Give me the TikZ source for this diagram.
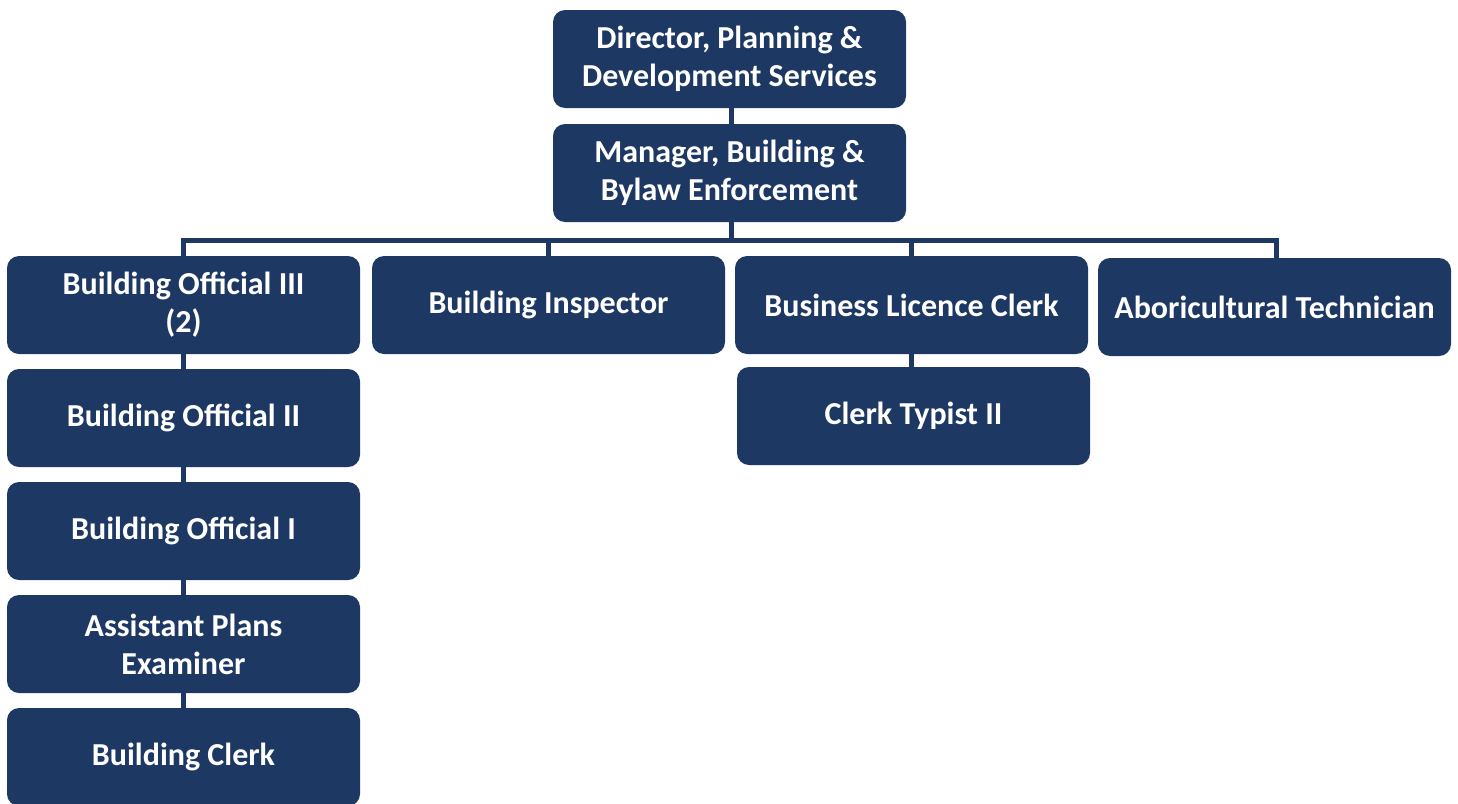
\documentclass[tikz,border=0pt]{standalone}
\usepackage{fontspec}
\setmainfont{Carlito}
\definecolor{navy}{HTML}{1E3864}
\tikzset{
  unit/.style={draw=none, fill=navy, rounded corners=12pt, minimum width=353pt, minimum height=98pt,
    text=white, align=center, font=\fontsize{32}{38}\selectfont\bfseries, inner sep=0pt},
  conn/.style={draw=navy, line width=5pt, line join=miter}
}
\begin{document}
\begin{tikzpicture}[x=1pt,y=-1pt]
\useasboundingbox (0,0) rectangle (1458,803);
\coordinate (bus) at (0,240);
\node[unit] (dir) at (729.5,59) {Director, Planning \&\\Development Services};
\node[unit] (mgr) at (729.5,173) {Manager, Building \&\\Bylaw Enforcement};
\node[unit] (bo3) at (183.5,305) {Building Official III\\(2)};
\node[unit] (bi) at (548.5,305) {Building Inspector};
\node[unit] (blc) at (911.5,305) {Business Licence Clerk};
\node[unit] (abo) at (1274.5,307) {Aboricultural Technician};
\node[unit] (ct) at (913.5,416) {Clerk Typist II};
\node[unit] (bo2) at (183.5,418) {Building Official II};
\node[unit] (bo1) at (183.5,531) {Building Official I};
\node[unit] (ape) at (183.5,644) {Assistant Plans\\Examiner};
\node[unit] (bc) at (183.5,757) {Building Clerk};
\draw[conn] ([xshift=1.5pt]dir.south) -- ([xshift=1.5pt]mgr.north);
\draw[conn] ([xshift=1.5pt]mgr.south) -- ([xshift=1.5pt]mgr.south |- bus);
\draw[conn] (bo3.north) -- (bo3.north |- bus) -- ([xshift=1.5pt]abo.north |- bus) -- ([xshift=1.5pt]abo.north);
\draw[conn] (bi.north |- bus) -- (bi.north);
\draw[conn] (blc.north |- bus) -- (blc.north);
\draw[conn] (blc.south) -- (blc.south |- ct.north);
\draw[conn] (bo3.south) -- (bo2.north);
\draw[conn] (bo2.south) -- (bo1.north);
\draw[conn] (bo1.south) -- (ape.north);
\draw[conn] (ape.south) -- (bc.north);
\end{tikzpicture}
\end{document}
